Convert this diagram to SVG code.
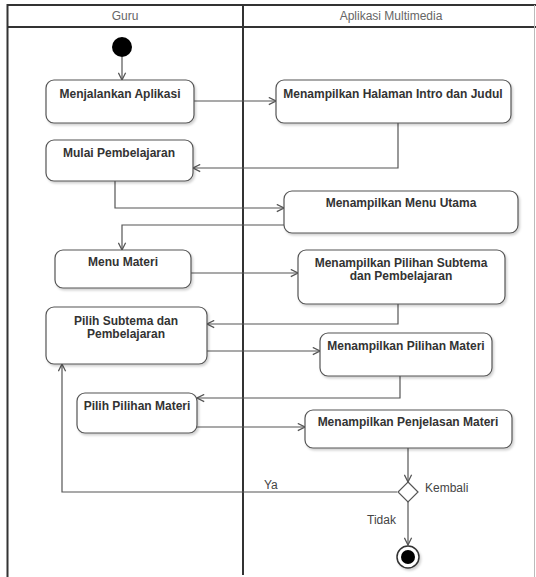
<svg xmlns="http://www.w3.org/2000/svg" width="536" height="577" viewBox="0 0 536 577">
  <style>
    .lane { fill: none; stroke: #333; stroke-width: 2; }
    .lane-thin { fill: none; stroke: #bbb; stroke-width: 1; }
    .hdr { font-family: "Liberation Sans", Arial, sans-serif; font-size: 12px; fill: #666; text-anchor: middle; }
    .box { fill: #fff; stroke: #555; stroke-width: 1.2; filter: url(#shadow); }
    .lbl { font-family: "Liberation Sans", Arial, sans-serif; font-size: 12px; font-weight: bold; fill: #333; text-anchor: middle; }
    .edge { fill: none; stroke: #555; stroke-width: 1.2; marker-end: url(#arrow); }
    .edge-plain { fill: none; stroke: #555; stroke-width: 1.2; }
    .note { font-family: "Liberation Sans", Arial, sans-serif; font-size: 12px; fill: #444; }
  </style>
  <defs>
    <filter id="shadow" x="-10%" y="-10%" width="130%" height="140%">
      <feDropShadow dx="1.5" dy="2" stdDeviation="1.2" flood-color="#000" flood-opacity="0.18"/>
    </filter>
    <marker id="arrow" viewBox="0 0 10 10" refX="9" refY="5" markerWidth="9" markerHeight="9" markerUnits="userSpaceOnUse" orient="auto">
      <path d="M1 1 L9 5 L1 9" fill="none" stroke="#555" stroke-width="1.4"/>
    </marker>
  </defs>

  <rect width="536" height="577" fill="#fff"/>

  <!-- swimlanes -->
  <g id="lanes">
    <line class="lane" x1="7.5" y1="5" x2="536" y2="5"/>
    <line class="lane" x1="7.5" y1="27" x2="536" y2="27"/>
    <line class="lane" x1="7.5" y1="4" x2="7.5" y2="577"/>
    <line class="lane" x1="243" y1="5" x2="243" y2="575"/>
    <line class="lane-thin" x1="534.5" y1="5" x2="534.5" y2="577"/>
    <text class="hdr" x="125" y="20">Guru</text>
    <text class="hdr" x="391" y="20">Aplikasi Multimedia</text>
  </g>

  <!-- connectors -->
  <g id="connectors">
    <path class="edge" d="M122 57 V80"/>
    <path class="edge" d="M194 101 H276"/>
    <path class="edge" d="M398 123 V168 H193"/>
    <path class="edge" d="M115 181 V208 H284"/>
    <path class="edge" d="M284 225 H122 V250"/>
    <path class="edge" d="M191 273 H298"/>
    <path class="edge" d="M398 304 V324 H207"/>
    <path class="edge" d="M207 351 H320"/>
    <path class="edge" d="M400 376 V398 H197"/>
    <path class="edge" d="M197 427 H305"/>
    <path class="edge" d="M408 448 V482"/>
    <path class="edge" d="M397 492 H62 V364"/>
    <path class="edge" d="M408 502 V545"/>
    <text class="note" x="264" y="489">Ya</text>
    <text class="note" x="425" y="492">Kembali</text>
    <text class="note" x="367" y="524">Tidak</text>
  </g>

  <!-- start -->
  <g id="start">
    <circle cx="122" cy="47" r="10" fill="#000"/>
  </g>

  <g id="menjalankan-aplikasi">
    <rect class="box" x="46" y="80" width="148" height="43" rx="8"/>
    <text class="lbl" x="120" y="98">Menjalankan Aplikasi</text>
  </g>

  <g id="halaman-intro">
    <rect class="box" x="276" y="80" width="235" height="43" rx="8"/>
    <text class="lbl" x="393" y="98">Menampilkan Halaman Intro dan Judul</text>
  </g>

  <g id="mulai-pembelajaran">
    <rect class="box" x="46" y="140" width="147" height="41" rx="8"/>
    <text class="lbl" x="119" y="157">Mulai Pembelajaran</text>
  </g>

  <g id="menu-utama">
    <rect class="box" x="284" y="191" width="234" height="42" rx="8"/>
    <text class="lbl" x="401" y="207">Menampilkan Menu Utama</text>
  </g>

  <g id="menu-materi">
    <rect class="box" x="55" y="250" width="136" height="38" rx="8"/>
    <text class="lbl" x="123" y="266">Menu Materi</text>
  </g>

  <g id="pilihan-subtema">
    <rect class="box" x="298" y="250" width="207" height="54" rx="8"/>
    <text class="lbl" x="401" y="267">Menampilkan Pilihan Subtema</text>
    <text class="lbl" x="401" y="280">dan Pembelajaran</text>
  </g>

  <g id="pilih-subtema">
    <rect class="box" x="46" y="307" width="161" height="57" rx="8"/>
    <text class="lbl" x="126" y="325">Pilih Subtema dan</text>
    <text class="lbl" x="126" y="338">Pembelajaran</text>
  </g>

  <g id="pilihan-materi">
    <rect class="box" x="320" y="333" width="172" height="43" rx="8"/>
    <text class="lbl" x="406" y="350">Menampilkan Pilihan Materi</text>
  </g>

  <g id="pilih-pilihan-materi">
    <rect class="box" x="77" y="393" width="120" height="40" rx="8"/>
    <text class="lbl" x="137" y="410">Pilih Pilihan Materi</text>
  </g>

  <g id="penjelasan-materi">
    <rect class="box" x="305" y="410" width="207" height="38" rx="8"/>
    <text class="lbl" x="408" y="426">Menampilkan Penjelasan Materi</text>
  </g>

  <g id="kembali-decision">
    <path d="M408 482 L418 492 L408 502 L398 492 Z" fill="#fff" stroke="#555" stroke-width="1.2"/>
  </g>

  <g id="end">
    <circle cx="408" cy="557" r="11" fill="#fff" stroke="#333" stroke-width="1.5" filter="url(#shadow)"/>
    <circle cx="408" cy="557" r="7" fill="#000"/>
  </g>
</svg>
